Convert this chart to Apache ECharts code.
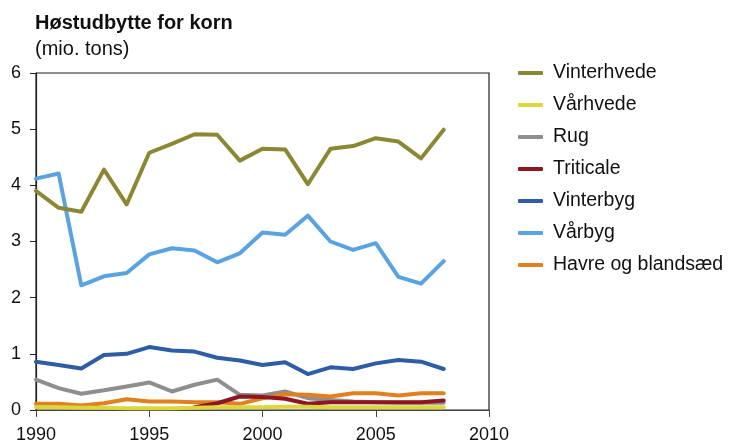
<!DOCTYPE html>
<html>
<head>
<meta charset="utf-8">
<script src="https://cdn.jsdelivr.net/npm/echarts@6/dist/echarts.min.js"></script>
<style>
  html, body { margin: 0; padding: 0; background: #fff; }
  #chart { width: 739px; height: 444px; }
</style>
</head>
<body>
<div id="chart"></div>
<script>
// år 1990-2008
var years = [1990, 1991, 1992, 1993, 1994, 1995, 1996, 1997, 1998, 1999, 2000, 2001, 2002, 2003, 2004, 2005, 2006, 2007, 2008];

// høstudbytte, mio. tons
var vinterhvede = [3.90, 3.60, 3.53, 4.28, 3.66, 4.58, 4.74, 4.91, 4.90, 4.44, 4.65, 4.64, 4.02, 4.65, 4.70, 4.84, 4.78, 4.48, 4.99];
var vaarhvede = [0.05, 0.05, 0.04, 0.04, 0.03, 0.03, 0.03, 0.04, 0.05, 0.05, 0.05, 0.06, 0.06, 0.05, 0.05, 0.05, 0.05, 0.05, 0.05];
var rug = [0.54, 0.39, 0.29, 0.35, 0.42, 0.49, 0.33, 0.45, 0.54, 0.27, 0.26, 0.33, 0.21, 0.18, 0.15, 0.14, 0.13, 0.13, 0.13];
var triticale = [null, null, null, null, null, null, null, 0.05, 0.12, 0.24, 0.23, 0.20, 0.11, 0.14, 0.14, 0.14, 0.14, 0.14, 0.17];
var vinterbyg = [0.86, 0.80, 0.74, 0.98, 1.00, 1.12, 1.06, 1.04, 0.93, 0.88, 0.80, 0.85, 0.64, 0.76, 0.73, 0.83, 0.89, 0.86, 0.73];
var vaarbyg = [4.12, 4.21, 2.22, 2.38, 2.44, 2.77, 2.88, 2.84, 2.63, 2.79, 3.16, 3.12, 3.46, 3.00, 2.85, 2.97, 2.37, 2.25, 2.65];
var havre = [0.11, 0.11, 0.08, 0.12, 0.19, 0.15, 0.15, 0.14, 0.14, 0.11, 0.21, 0.28, 0.27, 0.24, 0.30, 0.30, 0.26, 0.30, 0.30];

var xTicks = [1990, 1995, 2000, 2005, 2010];
var yTicks = [0, 1, 2, 3, 4, 5, 6];

var navne = ['Vinterhvede', 'Vårhvede', 'Rug', 'Triticale', 'Vinterbyg', 'Vårbyg', 'Havre og blandsæd'];
var farver = ['#8a8833', '#ddd73a', '#8e8e8e', '#8e1622', '#2f5ca6', '#5aa3e2', '#e0801f'];
var serier = [vinterhvede, vaarhvede, rug, triticale, vinterbyg, vaarbyg, havre];

var font = '"Liberation Sans", Arial, sans-serif';

// tegnerækkefølge: de små i bunden først
var order = [5, 0, 4, 2, 6, 3, 1];

var chart = echarts.init(document.getElementById('chart'));

var series = order.map(function (i) {
  return {
    name: navne[i],
    type: 'line',
    data: years.map(function (y, k) { return [y, serier[i][k]]; }),
    showSymbol: false,
    symbol: 'none',
    connectNulls: false,
    lineStyle: { width: 4, color: farver[i], join: 'round', cap: 'round' },
    itemStyle: { color: farver[i] },
    silent: true,
    animation: false
  };
});

var option = {
  animation: false,
  textStyle: { fontFamily: font },
  title: [
    {
      text: 'Høstudbytte for korn',
      left: 35, top: 13, padding: 0,
      textStyle: { fontFamily: font, fontSize: 20, fontWeight: 'bold', color: '#111' }
    },
    {
      text: '(mio. tons)',
      left: 35, top: 39, padding: 0,
      textStyle: { fontFamily: font, fontSize: 20, fontWeight: 'normal', color: '#111' }
    }
  ],
  legend: {
    orient: 'vertical',
    left: 513,
    top: 58,
    data: navne,
    icon: 'roundRect',
    itemWidth: 25,
    itemHeight: 4,
    itemGap: 12,
    textStyle: { fontFamily: font, fontSize: 19.5, color: '#111', padding: [0, 0, 0, 5] },
    selectedMode: false
  },
  grid: {
    left: 36, right: 250, top: 73, bottom: 32,
    show: true, borderColor: '#222', borderWidth: 1.2
  },
  xAxis: {
    type: 'value',
    min: xTicks[0], max: xTicks[xTicks.length - 1], interval: 5,
    axisLine: { lineStyle: { color: '#444', width: 1.2 } },
    axisTick: { show: true, inside: false, length: 7, lineStyle: { color: '#444' } },
    axisLabel: { fontFamily: font, fontSize: 18, color: '#111', margin: 16, formatter: function (v) { return String(v); } },
    splitLine: { show: false }
  },
  yAxis: {
    type: 'value',
    min: yTicks[0], max: yTicks[yTicks.length - 1], interval: 1,
    axisLine: { show: true, lineStyle: { color: '#222', width: 1.2 } },
    axisTick: { show: true, inside: false, length: 6, lineStyle: { color: '#222' } },
    axisLabel: { fontFamily: font, fontSize: 18, color: '#111', margin: 15 },
    splitLine: { show: false }
  },
  series: series
};

chart.setOption(option);
</script>
</body>
</html>
